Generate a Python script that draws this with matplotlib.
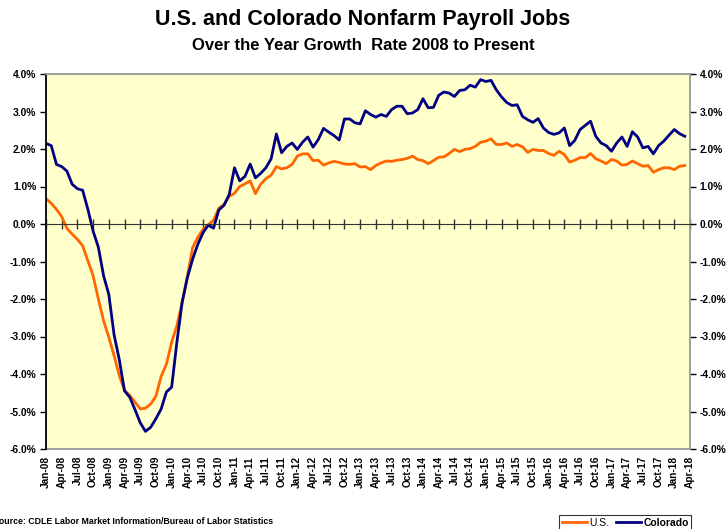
import matplotlib
matplotlib.use("Agg")
import matplotlib.pyplot as plt
from matplotlib.ticker import FuncFormatter, MultipleLocator

# Over-the-year growth rate (%), monthly from Jan-08 to Mar-18
us = [0.68, 0.55, 0.39, 0.20, -0.12, -0.27, -0.41, -0.58, -0.98, -1.38,
      -2.00, -2.58, -3.02, -3.51, -4.04, -4.44, -4.57, -4.75, -4.93, -4.91,
      -4.80, -4.59, -4.06, -3.74, -3.15, -2.71, -2.09, -1.40, -0.63, -0.35,
      -0.14, -0.02, 0.10, 0.42, 0.52, 0.74, 0.82, 1.00, 1.07, 1.15,
      0.81, 1.06, 1.21, 1.30, 1.53, 1.47, 1.50, 1.59, 1.81, 1.87,
      1.87, 1.69, 1.70, 1.57, 1.63, 1.67, 1.64, 1.60, 1.59, 1.61,
      1.52, 1.53, 1.45, 1.56, 1.63, 1.68, 1.67, 1.70, 1.72, 1.75,
      1.81, 1.72, 1.69, 1.61, 1.69, 1.78, 1.79, 1.88, 1.99, 1.93,
      1.99, 2.01, 2.07, 2.18, 2.21, 2.27, 2.12, 2.12, 2.16, 2.07,
      2.12, 2.06, 1.91, 1.99, 1.96, 1.96, 1.88, 1.83, 1.94, 1.85,
      1.65, 1.70, 1.77, 1.77, 1.88, 1.74, 1.68, 1.61, 1.72, 1.68,
      1.57, 1.59, 1.68, 1.61, 1.54, 1.56, 1.38, 1.45, 1.50, 1.50,
      1.45, 1.54, 1.56]
colorado = [2.15, 2.09, 1.59, 1.53, 1.41, 1.06, 0.94, 0.90, 0.39, -0.19,
            -0.62, -1.38, -1.88, -2.95, -3.62, -4.45, -4.62, -4.95, -5.30, -5.53,
            -5.42, -5.19, -4.93, -4.48, -4.35, -3.15, -2.09, -1.43, -0.94, -0.54,
            -0.23, -0.03, -0.11, 0.37, 0.50, 0.79, 1.50, 1.15, 1.27, 1.60,
            1.23, 1.35, 1.50, 1.74, 2.40, 1.90, 2.07, 2.16, 1.99, 2.18,
            2.32, 2.05, 2.25, 2.55, 2.45, 2.36, 2.24, 2.80, 2.80, 2.70,
            2.67, 3.02, 2.92, 2.85, 2.92, 2.87, 3.05, 3.14, 3.14, 2.94,
            2.96, 3.05, 3.34, 3.10, 3.11, 3.43, 3.52, 3.49, 3.40, 3.56,
            3.58, 3.70, 3.65, 3.85, 3.80, 3.83, 3.58, 3.39, 3.24, 3.16,
            3.18, 2.87, 2.78, 2.71, 2.81, 2.56, 2.44, 2.39, 2.43, 2.56,
            2.09, 2.23, 2.52, 2.63, 2.74, 2.34, 2.16, 2.09, 1.94, 2.16,
            2.32, 2.07, 2.46, 2.32, 2.03, 2.07, 1.87, 2.09, 2.21, 2.37,
            2.52, 2.41, 2.34]

years = range(2008, 2019)
quarters = ["Jan", "Apr", "Jul", "Oct"]
tick_labels = [f"{m}-{y % 100:02d}" for y in years for m in quarters][:42]

months = list(range(len(us)))
tick_pos = [3 * i for i in range(len(tick_labels))]

plt.rcParams["font.family"] = ["Liberation Sans", "DejaVu Sans"]

W, H = 726, 529
fig = plt.figure(figsize=(W / 100, H / 100), dpi=100)
ax = fig.add_axes([46 / W, 1 - 449 / H, 644 / W, 375 / H])
ax.set_facecolor("#FFFFCC")

ax.plot(months, us, color="#FF6600", lw=2.0, label="U.S.")
ax.plot(months, colorado, color="#000080", lw=2.0, label="Colorado")

ax.set_xlim(0, tick_pos[-1])
ax.set_ylim(-6, 4)

# y axis, labels on both sides
ax.yaxis.set_major_locator(MultipleLocator(1))
ax.yaxis.set_major_formatter(FuncFormatter(lambda v, p: f"{v:.1f}%"))
ax.tick_params(axis="y", left=True, right=True, labelleft=True, labelright=True,
               direction="out", length=4, width=1, labelsize=7.4, pad=3)
for lab in ax.get_yticklabels():
    lab.set_fontweight("bold")

# category axis crosses at zero
ax.spines["bottom"].set_position(("data", 0))
ax.spines["bottom"].set_color("#333333")
ax.spines["left"].set_color("black")
ax.spines["left"].set_linewidth(1.3)
for side in ("top", "right"):
    ax.spines[side].set_color("#999999")
    ax.spines[side].set_linewidth(1.3)
ax.set_xticks(tick_pos)
ax.tick_params(axis="x", direction="inout", length=7, width=1, colors="#333333",
               labelbottom=False)

sec = ax.secondary_xaxis("bottom")
sec.set_xticks(tick_pos, labels=tick_labels)
sec.tick_params(length=0, pad=5, labelsize=7.3)
for lab in sec.get_xticklabels():
    lab.set_rotation(90)
    lab.set_fontweight("bold")
sec.spines["bottom"].set_color("#999999")
sec.spines["bottom"].set_linewidth(1.3)

fig.text(0.5, 1 - 20 / H, "U.S. and Colorado Nonfarm Payroll Jobs",
         ha="center", va="center", fontsize=15.5, fontweight="bold")
fig.text(0.5, 1 - 45 / H, "Over the Year Growth  Rate 2008 to Present",
         ha="center", va="center", fontsize=12, fontweight="bold")
fig.text(-7 / W, 1 - 522 / H,
         "Source: CDLE Labor Market Information/Bureau of Labor Statistics",
         ha="left", va="center", fontsize=6.3, fontweight="bold")

leg = fig.legend(loc="upper left", bbox_to_anchor=(554 / W, 1 - 510 / H), ncol=2,
                 frameon=True, fancybox=False, edgecolor="black",
                 fontsize=7.5, handlelength=2.4, handletextpad=0.2,
                 columnspacing=0.7, borderpad=0.25)
leg.get_frame().set_linewidth(0.8)
leg.get_texts()[1].set_fontweight("bold")

fig.savefig("out.png", dpi=100)
